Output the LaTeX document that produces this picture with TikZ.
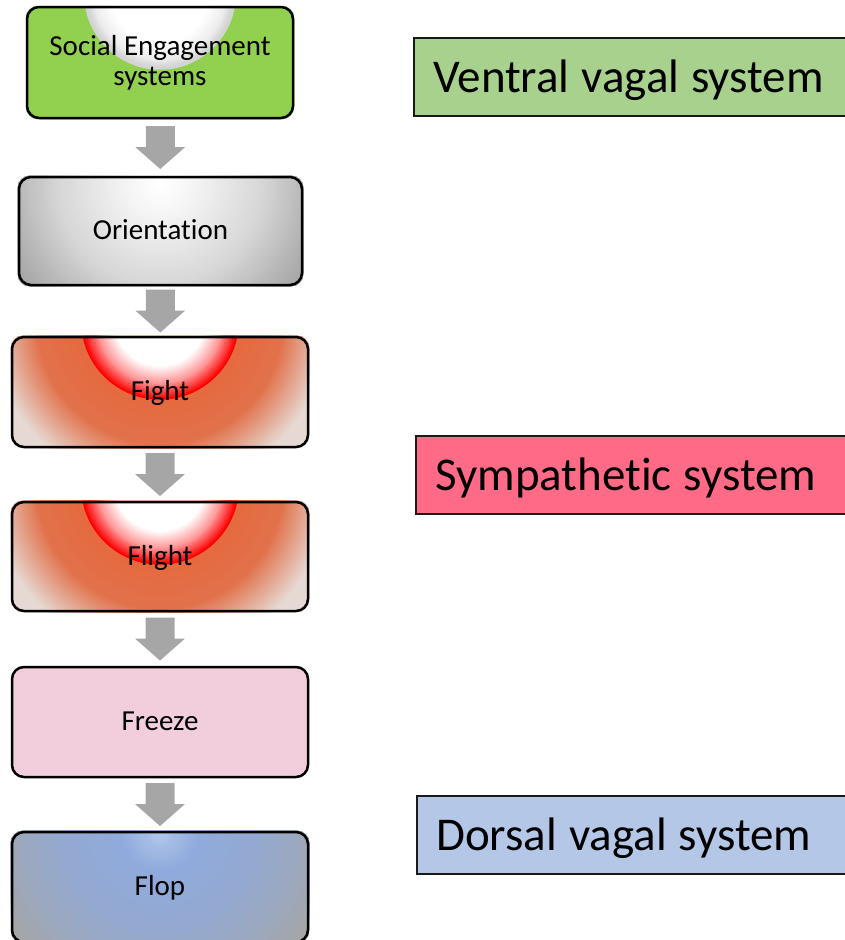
\documentclass[tikz,border=0pt]{standalone}
\usepackage{fontspec}
\setmainfont{Carlito}[Ligatures={NoCommon,NoContextual}]
\usetikzlibrary{calc,backgrounds}

% fills
\definecolor{segreen}{HTML}{92D050}
\definecolor{segreylight}{HTML}{EDEDED}
\definecolor{segrey}{HTML}{D4D4D4}
\definecolor{orlight}{HTML}{F2F2F2}
\definecolor{ormid}{HTML}{D6D6D6}
\definecolor{orsoft}{HTML}{B5B5B5}
\definecolor{ordark}{HTML}{A0A0A0}
\definecolor{firered}{HTML}{FF0000}
\definecolor{firepink}{HTML}{FF9A9A}
\definecolor{fireorange}{HTML}{E6693F}
\definecolor{fireorangeb}{HTML}{E1724B}
\definecolor{firepale}{HTML}{E6D8D2}
\definecolor{flopcore}{HTML}{AFC5EA}
\definecolor{flopblue}{HTML}{8FAADC}
\definecolor{flopmid}{HTML}{94A9D0}
\definecolor{flopsoft}{HTML}{9DA8BC}
\definecolor{flopgrey}{HTML}{A4A6AA}
\definecolor{freezepink}{HTML}{F2CEDC}
\definecolor{arrowgray}{HTML}{A6A6A6}
\definecolor{ventralgreen}{HTML}{A9D18E}
\definecolor{sympred}{HTML}{FF6B86}
\definecolor{dorsalblue}{HTML}{B4C7E7}

% radial colour band built from concentric discs:
% #1 centre, #2 outer radius, #3 inner radius, #4 outer colour, #5 inner colour, #6 steps
\newcommand\radialband[6]{%
  \foreach \k in {0,...,#6}{%
    \pgfmathsetmacro\rr{#2-(#2-#3)*\k/#6}%
    \pgfmathsetmacro\pp{100*\k/#6}%
    \fill[#5!\pp!#4] (#1) circle (\rr pt);
  }}

% clip drawing to the inside of a stage box
\newcommand\insidestage[1]{%
  \clip[rounded corners=12pt] (#1.south west) rectangle (#1.north east);}

% grey block arrow pointing down, centred between two stage boxes
\newcommand\stagearrow[2]{%
  \fill[arrowgray] ($(#1.south)!0.5!(#2.north)$) ++(-14.5pt,21.5pt)
    -- ++(29pt,0pt) -- ++(0pt,-21pt) -- ++(10.5pt,0pt)
    -- ++(-25pt,-22pt) -- ++(-25pt,22pt) -- ++(10.5pt,0pt) -- cycle;}

% left-aligned label of a system box, with fixed word spacing
\newcommand\syslabel[1]{\makebox[421pt][l]{\spaceskip=12pt\relax #1}}

\begin{document}
\begin{tikzpicture}[x=1pt,y=-1pt,
  stage/.style={draw=black, line width=2.5pt, rounded corners=12pt,
    inner sep=0pt, text=black, font=\fontsize{29}{30}\selectfont},
  oneline/.style={text height=20pt, text depth=3pt},
  sysbox/.style={draw=black!90, line width=1.5pt, anchor=north west,
    minimum height=78pt, inner xsep=19.5pt, inner ysep=0pt, text=black,
    font=\fontsize{47}{54}\selectfont,
    text height=35pt, text depth=4pt}]
\useasboundingbox (0,0) rectangle (844,940);

% stages
\node[stage, align=center, minimum width=266pt, minimum height=111pt]
  (social) at (160,62.5) {Social Engagement\\systems};
\node[stage, oneline, minimum width=283pt, minimum height=108pt]
  (orient) at (160.5,231) {Orientation};
\node[stage, oneline, minimum width=296pt, minimum height=110pt]
  (fight) at (160,392) {Fight};
\node[stage, oneline, minimum width=296pt, minimum height=109pt]
  (flight) at (160,556.5) {Flight};
\node[stage, oneline, fill=freezepink, minimum width=296pt, minimum height=110pt]
  (freeze) at (160,722) {Freeze};
\node[stage, oneline, minimum width=296pt, minimum height=110pt]
  (flop) at (160,887) {Flop};

% centres of the glows
\coordinate (socialc) at ($(social.north)+(0pt,12pt)$);
\coordinate (orientc) at ($(orient.north)+(0pt,-8pt)$);
\coordinate (fightc)  at ($(fight.north)+(0pt,15pt)$);
\coordinate (flightc) at ($(flight.north)+(0pt,15pt)$);
\coordinate (flopc)   at ($(flop.north)+(0pt,-2pt)$);

\begin{scope}[on background layer]
  \begin{scope}
    \insidestage{social}
    \fill[segreen] (socialc) circle (200pt);
    \radialband{socialc}{76}{74}{segrey}{segrey}{1}
    \radialband{socialc}{74}{66}{segrey}{segreylight}{6}
    \radialband{socialc}{66}{50}{segreylight}{white}{10}
  \end{scope}
  \begin{scope}
    \insidestage{orient}
    \fill[ordark] (orientc) circle (200pt);
    \radialband{orientc}{180}{148}{ordark}{orsoft}{16}
    \radialband{orientc}{148}{104}{orsoft}{ormid}{22}
    \radialband{orientc}{104}{40}{ormid}{orlight}{32}
    \radialband{orientc}{40}{4}{orlight}{white}{18}
  \end{scope}
  \foreach \st in {fight,flight}{%
  \begin{scope}
    \insidestage{\st}
    \fill[firepale] (\st c) circle (200pt);
    \radialband{\st c}{170}{124}{firepale}{fireorangeb}{24}
    \radialband{\st c}{124}{80}{fireorangeb}{fireorange}{20}
    \radialband{\st c}{79}{63}{firered}{firepink}{10}
    \radialband{\st c}{63}{46}{firepink}{white}{10}
  \end{scope}}
  \begin{scope}
    \insidestage{flop}
    \fill[flopgrey] (flopc) circle (200pt);
    \radialband{flopc}{172}{144}{flopgrey}{flopsoft}{14}
    \radialband{flopc}{144}{100}{flopsoft}{flopmid}{22}
    \radialband{flopc}{100}{40}{flopmid}{flopblue}{30}
    \radialband{flopc}{40}{4}{flopblue}{flopcore}{18}
  \end{scope}
\end{scope}

% arrows between stages
\stagearrow{social}{orient}
\stagearrow{orient}{fight}
\stagearrow{fight}{flight}
\stagearrow{flight}{freeze}
\stagearrow{freeze}{flop}

% nervous systems
\node[sysbox, fill=ventralgreen] (ventral) at (413,37) {\syslabel{Ventral vagal system}};
\node[sysbox, fill=sympred] (sympathetic) at (415,435) {\syslabel{Sympathetic system}};
\node[sysbox, fill=dorsalblue] (dorsal) at (416,795) {\syslabel{Dorsal vagal system}};
\end{tikzpicture}
\end{document}
